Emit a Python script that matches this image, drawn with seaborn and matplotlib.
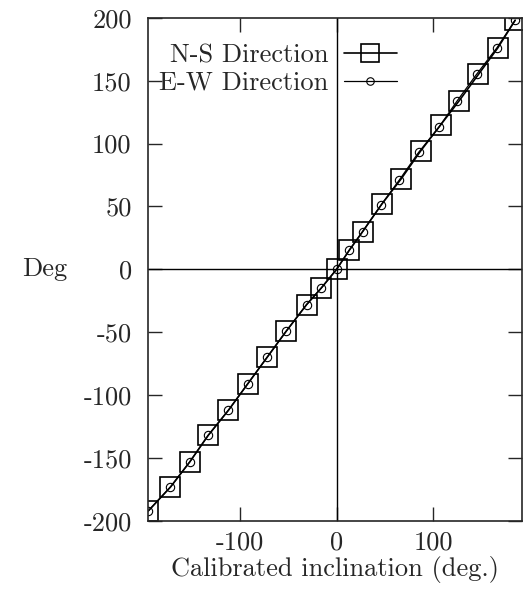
import pandas as pd
import matplotlib.pyplot as plt
import seaborn as sns

# calibrated inclination (deg.) and measured values
ns_x = [-195, -172, -152, -133, -112, -92, -72, -52, -31, -16, 0,
        13, 27, 47, 67, 87, 108, 127, 147, 167, 185]
ns_y = [-192, -173, -153, -132, -112, -91, -70, -49, -28, -15, 0,
        15, 30, 52, 72, 94, 115, 134, 155, 176, 198]
ew_x = [-195, -172, -152, -133, -112, -92, -72, -52, -31, -16, 0,
        13, 27, 46, 65, 85, 106, 125, 145, 166, 185]
ew_y = [-192, -173, -153, -132, -112, -91, -70, -49, -28, -15, 0,
        15, 30, 51, 71, 93, 113, 134, 155, 176, 198]

xticks = [-100, 0, 100]
xtick_labels = ["-100", "0", "100"]
yticks = [-200, -150, -100, -50, 0, 50, 100, 150, 200]
ytick_labels = ["-200", "-150", "-100", "-50", "0", "50", "100", "150", "200"]

ns = pd.DataFrame({"x": ns_x, "y": ns_y})
ew = pd.DataFrame({"x": ew_x, "y": ew_y})

sns.set_style("ticks")
plt.rcParams["font.family"] = ["cmr10", "DejaVu Serif"]

fig = plt.figure(figsize=(5.24, 5.92), dpi=100)
ax = fig.add_axes([0.283, 0.12, 0.713, 0.85])

ax.axhline(0, color="black", lw=1.0)
ax.axvline(0, color="black", lw=1.0)

sns.lineplot(data=ns, x="x", y="y", ax=ax, color="black", lw=1.2,
             marker="s", markersize=15, markerfacecolor="none",
             markeredgecolor="black", markeredgewidth=1.2,
             label="N-S Direction", sort=False)
sns.lineplot(data=ew, x="x", y="y", ax=ax, color="black", lw=0.9,
             marker="o", markersize=6, markerfacecolor="none",
             markeredgecolor="black", markeredgewidth=0.8,
             label="E-W Direction", sort=False)

ax.set_xlim(-195, 192)
ax.set_ylim(-200, 200)
ax.set_xticks(xticks)
ax.set_xticklabels(xtick_labels)
ax.set_yticks(yticks)
ax.set_yticklabels(ytick_labels)
ax.tick_params(direction="in", top=True, right=True, length=10, width=1,
               labelsize=19)
ax.tick_params(axis="y", pad=12)
ax.tick_params(axis="x", pad=7)
for s in ax.spines.values():
    s.set_linewidth(1.2)

ax.set_xlabel("Calibrated inclination (deg.)", fontsize=19, labelpad=1)
ax.set_ylabel("Deg", fontsize=19, rotation=0, labelpad=28, va="center")

leg = ax.legend(loc="upper left", frameon=False, markerfirst=False,
                fontsize=19, handlelength=2.0, handletextpad=0.6,
                borderaxespad=0.0, labelspacing=0.15,
                bbox_to_anchor=(0.0, 0.97))
for h in leg.legend_handles:
    h.set_markersize(h.get_markersize() * 0.9)

fig.savefig("out.png", dpi=100)
